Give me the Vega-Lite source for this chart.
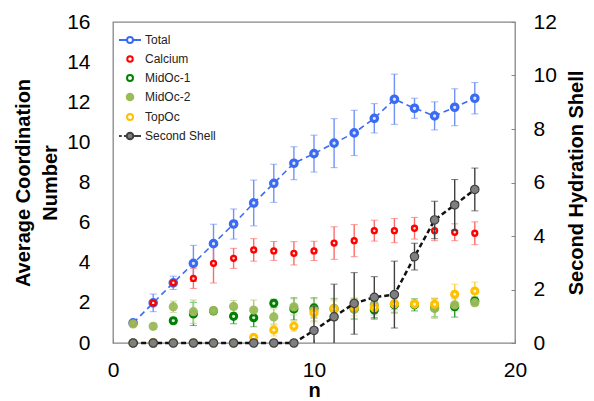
{
  "$schema": "https://vega.github.io/schema/vega-lite/v6.json",
  "width": 402,
  "height": 321,
  "autosize": "none",
  "padding": {"left": 113, "top": 22, "right": 79, "bottom": 58},
  "config": {
    "font": "Liberation Sans",
    "view": {"stroke": "#868686", "strokeWidth": 1.3},
    "axis": {"grid": false, "domain": false, "labelFlush": false, "labelColor": "#000", "titleColor": "#000", "labelFontSize": 21, "titleFontSize": 20, "titleFontWeight": "bold", "labelFont": "Liberation Sans", "titleFont": "Liberation Sans"}
  },
  "datasets": {
    "d": [
      {"n":1,"series":"Total","v":1.0,"e":0},
      {"n":2,"series":"Total","v":2.0,"e":0.44},
      {"n":3,"series":"Total","v":3.0,"e":0.33},
      {"n":4,"series":"Total","v":3.97,"e":0.9},
      {"n":5,"series":"Total","v":4.95,"e":0.97},
      {"n":6,"series":"Total","v":5.93,"e":0.75},
      {"n":7,"series":"Total","v":6.98,"e":1.14},
      {"n":8,"series":"Total","v":7.96,"e":0.95},
      {"n":9,"series":"Total","v":8.96,"e":0.82},
      {"n":10,"series":"Total","v":9.44,"e":0.92},
      {"n":11,"series":"Total","v":9.96,"e":1.22},
      {"n":12,"series":"Total","v":10.47,"e":1.13},
      {"n":13,"series":"Total","v":11.2,"e":0.73},
      {"n":14,"series":"Total","v":12.15,"e":1.25},
      {"n":15,"series":"Total","v":11.7,"e":0.5},
      {"n":16,"series":"Total","v":11.32,"e":0.7},
      {"n":17,"series":"Total","v":11.75,"e":0.92},
      {"n":18,"series":"Total","v":12.2,"e":0.78},
      {"n":1,"series":"Calcium","v":1.0,"e":0},
      {"n":2,"series":"Calcium","v":2.0,"e":0},
      {"n":3,"series":"Calcium","v":3.0,"e":0},
      {"n":4,"series":"Calcium","v":3.22,"e":0.5},
      {"n":5,"series":"Calcium","v":3.97,"e":0.98},
      {"n":6,"series":"Calcium","v":4.22,"e":0.5},
      {"n":7,"series":"Calcium","v":4.64,"e":0.56},
      {"n":8,"series":"Calcium","v":4.59,"e":0.47},
      {"n":9,"series":"Calcium","v":4.47,"e":0.58},
      {"n":10,"series":"Calcium","v":4.59,"e":0.48},
      {"n":11,"series":"Calcium","v":4.98,"e":0.81},
      {"n":12,"series":"Calcium","v":5.1,"e":0.8},
      {"n":13,"series":"Calcium","v":5.6,"e":0.52},
      {"n":14,"series":"Calcium","v":5.6,"e":0.6},
      {"n":15,"series":"Calcium","v":5.72,"e":0.54},
      {"n":16,"series":"Calcium","v":5.6,"e":0.5},
      {"n":17,"series":"Calcium","v":5.52,"e":0.42},
      {"n":18,"series":"Calcium","v":5.47,"e":0.57},
      {"n":1,"series":"MidOc-1","v":0,"e":0},
      {"n":2,"series":"MidOc-1","v":0,"e":0},
      {"n":3,"series":"MidOc-1","v":1.11,"e":0.15},
      {"n":4,"series":"MidOc-1","v":1.45,"e":0.58},
      {"n":5,"series":"MidOc-1","v":1.6,"e":0.15},
      {"n":6,"series":"MidOc-1","v":1.33,"e":0.37},
      {"n":7,"series":"MidOc-1","v":1.26,"e":0.45},
      {"n":8,"series":"MidOc-1","v":1.98,"e":0.2},
      {"n":9,"series":"MidOc-1","v":1.7,"e":0.55},
      {"n":10,"series":"MidOc-1","v":1.75,"e":0.5},
      {"n":11,"series":"MidOc-1","v":1.7,"e":0.5},
      {"n":12,"series":"MidOc-1","v":1.7,"e":0.5},
      {"n":13,"series":"MidOc-1","v":1.64,"e":0.45},
      {"n":14,"series":"MidOc-1","v":1.9,"e":0.4},
      {"n":15,"series":"MidOc-1","v":1.9,"e":0.3},
      {"n":16,"series":"MidOc-1","v":1.75,"e":0.45},
      {"n":17,"series":"MidOc-1","v":1.81,"e":0.52},
      {"n":18,"series":"MidOc-1","v":2.09,"e":0.2},
      {"n":1,"series":"MidOc-2","v":0.95,"e":0.1},
      {"n":2,"series":"MidOc-2","v":0.83,"e":0.15},
      {"n":3,"series":"MidOc-2","v":1.81,"e":0.28},
      {"n":4,"series":"MidOc-2","v":1.56,"e":0.58},
      {"n":5,"series":"MidOc-2","v":1.62,"e":0.15},
      {"n":6,"series":"MidOc-2","v":1.82,"e":0.3},
      {"n":7,"series":"MidOc-2","v":1.64,"e":0.5},
      {"n":8,"series":"MidOc-2","v":1.3,"e":0.4},
      {"n":9,"series":"MidOc-2","v":1.8,"e":0.4},
      {"n":10,"series":"MidOc-2","v":1.65,"e":0.55},
      {"n":11,"series":"MidOc-2","v":1.73,"e":0.5},
      {"n":12,"series":"MidOc-2","v":1.68,"e":0.5},
      {"n":13,"series":"MidOc-2","v":1.9,"e":0.45},
      {"n":14,"series":"MidOc-2","v":1.96,"e":0.3},
      {"n":15,"series":"MidOc-2","v":1.94,"e":0.1},
      {"n":16,"series":"MidOc-2","v":1.73,"e":0.5},
      {"n":17,"series":"MidOc-2","v":1.9,"e":0.3},
      {"n":18,"series":"MidOc-2","v":2.01,"e":0.15},
      {"n":1,"series":"TopOc","v":0,"e":0},
      {"n":2,"series":"TopOc","v":0,"e":0.2},
      {"n":3,"series":"TopOc","v":0,"e":0},
      {"n":4,"series":"TopOc","v":0,"e":0},
      {"n":5,"series":"TopOc","v":0,"e":0},
      {"n":6,"series":"TopOc","v":0,"e":0},
      {"n":7,"series":"TopOc","v":0.28,"e":0.15},
      {"n":8,"series":"TopOc","v":0.65,"e":0.3},
      {"n":9,"series":"TopOc","v":0.84,"e":0.25},
      {"n":10,"series":"TopOc","v":1.5,"e":0.45},
      {"n":11,"series":"TopOc","v":1.7,"e":0.4},
      {"n":12,"series":"TopOc","v":1.8,"e":0.45},
      {"n":13,"series":"TopOc","v":1.76,"e":0.4},
      {"n":14,"series":"TopOc","v":1.95,"e":0.4},
      {"n":15,"series":"TopOc","v":1.94,"e":0.1},
      {"n":16,"series":"TopOc","v":1.93,"e":0.3},
      {"n":17,"series":"TopOc","v":2.43,"e":0.5},
      {"n":18,"series":"TopOc","v":2.59,"e":0.45},
      {"n":1,"series":"Second Shell","v":0,"e":0},
      {"n":2,"series":"Second Shell","v":0,"e":0},
      {"n":3,"series":"Second Shell","v":0,"e":0},
      {"n":4,"series":"Second Shell","v":0,"e":0},
      {"n":5,"series":"Second Shell","v":0,"e":0},
      {"n":6,"series":"Second Shell","v":0,"e":0},
      {"n":7,"series":"Second Shell","v":0,"e":0},
      {"n":8,"series":"Second Shell","v":0,"e":0},
      {"n":9,"series":"Second Shell","v":0,"e":0},
      {"n":10,"series":"Second Shell","v":0.47,"e":0.91},
      {"n":11,"series":"Second Shell","v":0.98,"e":1.22},
      {"n":12,"series":"Second Shell","v":1.48,"e":1.15},
      {"n":13,"series":"Second Shell","v":1.71,"e":0.77},
      {"n":14,"series":"Second Shell","v":1.81,"e":1.25},
      {"n":15,"series":"Second Shell","v":3.23,"e":0.5},
      {"n":16,"series":"Second Shell","v":4.6,"e":0.7},
      {"n":17,"series":"Second Shell","v":5.16,"e":0.95},
      {"n":18,"series":"Second Shell","v":5.74,"e":0.8}
    ]
  },
  "data": {"name": "d"},
  "resolve": {"scale": {"y": "independent"}},
  "layer": [
    {
      "encoding": {
        "x": {"field": "n", "type": "quantitative", "scale": {"domain": [0, 20], "padding": 0},
              "axis": {"values": [0, 10, 20], "title": "n", "titleFontSize": 20, "ticks": true, "tickSize": -4, "tickColor": "#868686", "labelPadding": 20, "titlePadding": 0}},
        "y": {"field": "v", "type": "quantitative", "scale": {"domain": [0, 16], "padding": 0},
              "axis": {"values": [0, 2, 4, 6, 8, 10, 12, 14, 16], "ticks": false, "labelPadding": 23, "title": ["Average Coordination", "Number"], "titleLineHeight": 27, "titlePadding": 6}}
      },
      "layer": [
        {"transform": [{"filter": "datum.series === 'Total'"}],
         "mark": {"type": "line", "color": "#3A6BF4", "strokeDash": [6, 4], "strokeWidth": 1.6}},
        {"transform": [{"filter": "datum.series === 'Total'"}],
         "mark": {"type": "errorbar", "color": "#7092F6", "ticks": {"size": 7}, "rule": {"strokeWidth": 1.4}},
         "encoding": {"yError": {"field": "e"}}},
        {"transform": [{"filter": "datum.series === 'Calcium'"}],
         "mark": {"type": "errorbar", "color": "#FF6A6A", "ticks": {"size": 7}, "rule": {"strokeWidth": 1.4}},
         "encoding": {"yError": {"field": "e"}}},
        {"transform": [{"filter": "datum.series === 'MidOc-1'"}],
         "mark": {"type": "errorbar", "color": "#2E9B2E", "ticks": {"size": 7}, "rule": {"strokeWidth": 1.4}},
         "encoding": {"yError": {"field": "e"}}},
        {"transform": [{"filter": "datum.series === 'MidOc-2'"}],
         "mark": {"type": "errorbar", "color": "#AFCB7E", "ticks": {"size": 7}, "rule": {"strokeWidth": 1.4}},
         "encoding": {"yError": {"field": "e"}}},
        {"transform": [{"filter": "datum.series === 'TopOc'"}],
         "mark": {"type": "errorbar", "color": "#FFCE45", "ticks": {"size": 7}, "rule": {"strokeWidth": 1.4}},
         "encoding": {"yError": {"field": "e"}}},
        {"transform": [{"filter": "datum.series === 'Total'"}],
         "mark": {"type": "point", "filled": true, "fill": "#DCE5FD", "stroke": "#3A6BF4", "size": 42, "strokeWidth": 3.2, "opacity": 1}},
        {"transform": [{"filter": "datum.series === 'Calcium'"}],
         "mark": {"type": "point", "filled": true, "fill": "#FFE0E0", "stroke": "#FF0000", "size": 24, "strokeWidth": 2.4, "opacity": 1}},
        {"transform": [{"filter": "datum.series === 'MidOc-1'"}],
         "mark": {"type": "point", "filled": true, "fill": "#D8EED8", "stroke": "#008000", "size": 38, "strokeWidth": 3, "opacity": 1}},
        {"transform": [{"filter": "datum.series === 'MidOc-2'"}],
         "mark": {"type": "point", "filled": true, "fill": "#9BBB59", "stroke": "#9BBB59", "size": 60, "strokeWidth": 1.5, "opacity": 0.95}},
        {"transform": [{"filter": "datum.series === 'TopOc'"}],
         "mark": {"type": "point", "filled": true, "fill": "#FFF4D0", "stroke": "#FFC000", "size": 38, "strokeWidth": 3, "opacity": 1}},
        {"transform": [{"filter": "false"}],
         "mark": {"type": "point", "filled": true, "strokeWidth": 2, "opacity": 1},
         "encoding": {
           "shape": {"field": "series", "type": "nominal",
                     "scale": {"domain": ["Total", "Calcium", "MidOc-1", "MidOc-2", "TopOc", "Second Shell"],
                               "range": [
                                 "M-1,0L-0.3,0M0.3,0L1,0M0.27,0A0.27,0.27,0,1,1,-0.27,0A0.27,0.27,0,1,1,0.27,0Z",
                                 "M0.25,0A0.25,0.25,0,1,1,-0.25,0A0.25,0.25,0,1,1,0.25,0Z",
                                 "M0.27,0A0.27,0.27,0,1,1,-0.27,0A0.27,0.27,0,1,1,0.27,0Z",
                                 "M0.3,0A0.3,0.3,0,1,1,-0.3,0A0.3,0.3,0,1,1,0.3,0Z",
                                 "M0.27,0A0.27,0.27,0,1,1,-0.27,0A0.27,0.27,0,1,1,0.27,0Z",
                                 "M-1,0L-0.75,0M-0.55,0L-0.3,0M0.3,0L1,0M0.3,0A0.3,0.3,0,1,1,-0.3,0A0.3,0.3,0,1,1,0.3,0Z"
                               ]},
                     "legend": {"orient": "none", "legendX": 5, "legendY": 6, "title": null, "labelFontSize": 12, "labelColor": "#222", "symbolSize": 484, "symbolStrokeWidth": 2, "labelOffset": 3, "rowPadding": 0, "padding": 0}},
           "stroke": {"field": "series", "type": "nominal",
                      "scale": {"domain": ["Total", "Calcium", "MidOc-1", "MidOc-2", "TopOc", "Second Shell"], "range": ["#3A6BF4", "#FF0000", "#008000", "#9BBB59", "#FFC000", "#404040"]},
                      "legend": {"orient": "none", "legendX": 5, "legendY": 6, "title": null, "labelFontSize": 12, "labelColor": "#222", "symbolSize": 484, "symbolStrokeWidth": 2, "labelOffset": 3, "rowPadding": 0, "padding": 0}},
           "fill": {"field": "series", "type": "nominal",
                    "scale": {"domain": ["Total", "Calcium", "MidOc-1", "MidOc-2", "TopOc", "Second Shell"], "range": ["#FFFFFF", "#FFFFFF", "#FFFFFF", "#9BBB59", "#FFFFFF", "#7F7F7F"]},
                    "legend": {"orient": "none", "legendX": 5, "legendY": 6, "title": null, "labelFontSize": 12, "labelColor": "#222", "symbolSize": 484, "symbolStrokeWidth": 2, "labelOffset": 3, "rowPadding": 0, "padding": 0}}
         }}
      ]
    },
    {
      "transform": [{"filter": "datum.series === 'Second Shell'"}],
      "encoding": {
        "x": {"field": "n", "type": "quantitative", "scale": {"domain": [0, 20], "padding": 0}},
        "y": {"field": "v", "type": "quantitative", "scale": {"domain": [0, 12], "padding": 0},
              "axis": {"orient": "right", "values": [0, 2, 4, 6, 8, 10, 12], "ticks": true, "tickSize": -4, "tickColor": "#868686", "labelPadding": 22, "title": "Second Hydration Shell", "titleAngle": 270, "titleBaseline": "top", "titlePadding": 10}}
      },
      "layer": [
        {"mark": {"type": "line", "color": "#111111", "strokeDash": [5, 3], "strokeWidth": 2.5}},
        {"mark": {"type": "errorbar", "clip": true, "color": "#404040", "ticks": {"size": 7}, "rule": {"strokeWidth": 1.4}},
         "encoding": {"yError": {"field": "e"}}},
        {"mark": {"type": "point", "filled": true, "fill": "#7F7F7F", "stroke": "#404040", "size": 70, "strokeWidth": 1.2, "opacity": 1}}
      ]
    }
  ]
}
